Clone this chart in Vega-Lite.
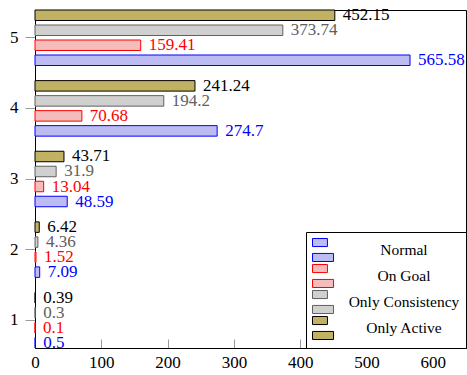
{
  "$schema": "https://vega.github.io/schema/vega-lite/v6.json",
  "width": 431,
  "height": 338,
  "autosize": {"type": "none"},
  "padding": {"left": 35, "top": 10, "right": 1, "bottom": 27},
  "config": {
    "view": {"stroke": "#000000", "strokeWidth": 1},
    "font": "Liberation Serif",
    "axis": {"domainColor": "#000000", "labelColor": "#000000", "labelFont": "Liberation Serif", "labelFontSize": 17, "grid": false, "tickColor": "#999999"},
    "legend": {
      "orient": "bottom-right",
      "offset": 0,
      "strokeColor": "#000000",
      "fillColor": "#ffffff",
      "padding": 6,
      "rowPadding": -2,
      "symbolType": "M-1,-1H0.3V-0.3H-1Z M-1,0.3H0.83V1H-1Z",
      "symbolSize": 529,
      "symbolStrokeWidth": 1,
      "labelFont": "Liberation Serif",
      "labelFontSize": 15.5,
      "labelColor": "#000000",
      "labelAlign": "center",
      "labelOffset": 68,
      "labelLimit": 300
    }
  },
  "data": {
    "values": [
      {"group": 1, "series": "Normal", "value": 0.5},
      {"group": 1, "series": "On Goal", "value": 0.1},
      {"group": 1, "series": "Only Consistency", "value": 0.3},
      {"group": 1, "series": "Only Active", "value": 0.39},
      {"group": 2, "series": "Normal", "value": 7.09},
      {"group": 2, "series": "On Goal", "value": 1.52},
      {"group": 2, "series": "Only Consistency", "value": 4.36},
      {"group": 2, "series": "Only Active", "value": 6.42},
      {"group": 3, "series": "Normal", "value": 48.59},
      {"group": 3, "series": "On Goal", "value": 13.04},
      {"group": 3, "series": "Only Consistency", "value": 31.9},
      {"group": 3, "series": "Only Active", "value": 43.71},
      {"group": 4, "series": "Normal", "value": 274.7},
      {"group": 4, "series": "On Goal", "value": 70.68},
      {"group": 4, "series": "Only Consistency", "value": 194.2},
      {"group": 4, "series": "Only Active", "value": 241.24},
      {"group": 5, "series": "Normal", "value": 565.58},
      {"group": 5, "series": "On Goal", "value": 159.41},
      {"group": 5, "series": "Only Consistency", "value": 373.74},
      {"group": 5, "series": "Only Active", "value": 452.15}
    ]
  },
  "encoding": {
    "y": {
      "field": "group", "type": "ordinal",
      "scale": {"domain": [5, 4, 3, 2, 1], "paddingInner": 0.214, "paddingOuter": 0},
      "axis": {"title": null, "tickSize": 10, "labelPadding": 7, "labelAngle": 0}
    },
    "yOffset": {
      "field": "series", "type": "nominal",
      "scale": {"domain": ["Only Active", "Only Consistency", "On Goal", "Normal"], "paddingInner": 0.3, "paddingOuter": 0}
    },
    "x": {
      "field": "value", "type": "quantitative",
      "scale": {"domain": [0, 650], "nice": false, "zero": true},
      "axis": {"title": null, "values": [0, 100, 200, 300, 400, 500, 600], "tickSize": -9, "labelPadding": 15, "labelFlush": false}
    }
  },
  "layer": [
    {
      "mark": {"type": "bar", "strokeWidth": 1, "opacity": 1, "fillOpacity": 1},
      "encoding": {
        "fill": {
          "field": "series", "type": "nominal",
          "scale": {"domain": ["Normal", "On Goal", "Only Consistency", "Only Active"], "range": ["#bcbcf2", "#f5bcbc", "#d0d0d0", "#c0b262"]},
          "legend": {"title": null}
        },
        "stroke": {
          "field": "series", "type": "nominal",
          "scale": {"domain": ["Normal", "On Goal", "Only Consistency", "Only Active"], "range": ["#0000ff", "#ff0000", "#606060", "#000000"]},
          "legend": {"title": null}
        }
      }
    },
    {
      "mark": {"type": "text", "align": "left", "baseline": "middle", "dx": 8, "font": "Liberation Serif", "fontSize": 17},
      "encoding": {
        "text": {"field": "value", "type": "nominal"},
        "color": {
          "field": "series", "type": "nominal",
          "scale": {"domain": ["Normal", "On Goal", "Only Consistency", "Only Active"], "range": ["#0000ff", "#ff0000", "#606060", "#000000"]},
          "legend": null
        }
      }
    }
  ]
}
